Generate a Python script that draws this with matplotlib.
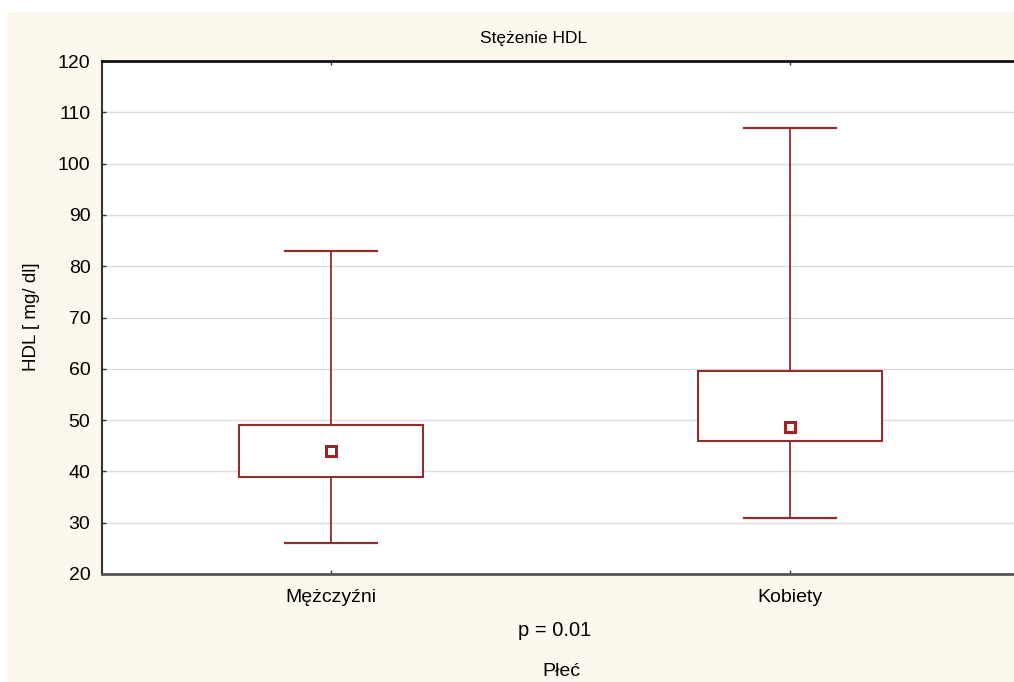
import matplotlib
matplotlib.use("Agg")
import matplotlib.pyplot as plt
from matplotlib.patches import Rectangle

plt.rcParams['font.family'] = ['Liberation Sans', 'DejaVu Sans']

categories = ["Mężczyźni", "Kobiety"]
whisker_low = [26, 31]
box_low = [39, 46]
center = [44, 48.7]
box_high = [49, 59.5]
whisker_high = [83, 107]
yticks = [20, 30, 40, 50, 60, 70, 80, 90, 100, 110, 120]

W, H = 1014, 682
fig = plt.figure(figsize=(W / 100, H / 100), dpi=100, facecolor="white")
fig.patches.append(Rectangle((7 / W, 0), 1, 1 - 12 / H, transform=fig.transFigure,
                             facecolor="#fdf8ee", edgecolor="none", zorder=-10))

ax_left, ax_right = 101.5, 1019.5
ax_top, ax_bot = 61, 574
ax = fig.add_axes([ax_left / W, 1 - ax_bot / H, (ax_right - ax_left) / W, (ax_bot - ax_top) / H])
ax.set_facecolor("white")

stats = []
for i in range(len(categories)):
    stats.append(dict(med=center[i], q1=box_low[i], q3=box_high[i],
                      whislo=whisker_low[i], whishi=whisker_high[i],
                      mean=center[i], fliers=[], label=categories[i]))

red = "#8e2f2f"
ax.bxp(stats, positions=range(len(categories)), widths=0.4, showmeans=True,
       showfliers=False, patch_artist=True,
       boxprops=dict(facecolor="white", edgecolor=red, linewidth=1.5),
       whiskerprops=dict(color=red, linewidth=1.3),
       capprops=dict(color=red, linewidth=1.6),
       capwidths=0.2,
       medianprops=dict(visible=False),
       meanprops=dict(marker="s", markersize=6.5, markerfacecolor="white",
                      markeredgecolor="#9b2525", markeredgewidth=2.2))

ax.set_xlim(-0.5, 1.5)
ax.set_ylim(20, 120)
ax.set_yticks(yticks)
ax.set_yticklabels([str(t) for t in yticks], fontsize=14)
ax.set_xticks(range(len(categories)))
ax.set_xticklabels(categories, fontsize=14)
ax.tick_params(axis="both", direction="in", length=3, width=1, color="#333333", pad=8)
ax.tick_params(axis="x", pad=11)
ax.tick_params(top=True, labeltop=False)
ax.yaxis.grid(True, color="#dcdcdc", linewidth=1)
ax.set_axisbelow(True)

ax.spines["right"].set_visible(False)
ax.spines["top"].set_color("#111111")
ax.spines["top"].set_linewidth(2)
ax.spines["left"].set_color("#333333")
ax.spines["left"].set_linewidth(1.5)
ax.spines["bottom"].set_color("#555555")
ax.spines["bottom"].set_linewidth(2)

fig.text(534 / W, 1 - 38 / H, "Stężenie HDL", ha="center", va="center", fontsize=12.5)
fig.text(31 / W, 1 - 317 / H, "HDL [ mg/ dl]", ha="center", va="center", rotation=90, fontsize=13.5)
fig.text(555 / W, 1 - 630 / H, "p = 0.01", ha="center", va="center", fontsize=14.5)
fig.text(561 / W, 1 - 672 / H, "Płeć", ha="center", va="center", fontsize=14)

fig.savefig("out.png", dpi=100, facecolor=fig.get_facecolor())
